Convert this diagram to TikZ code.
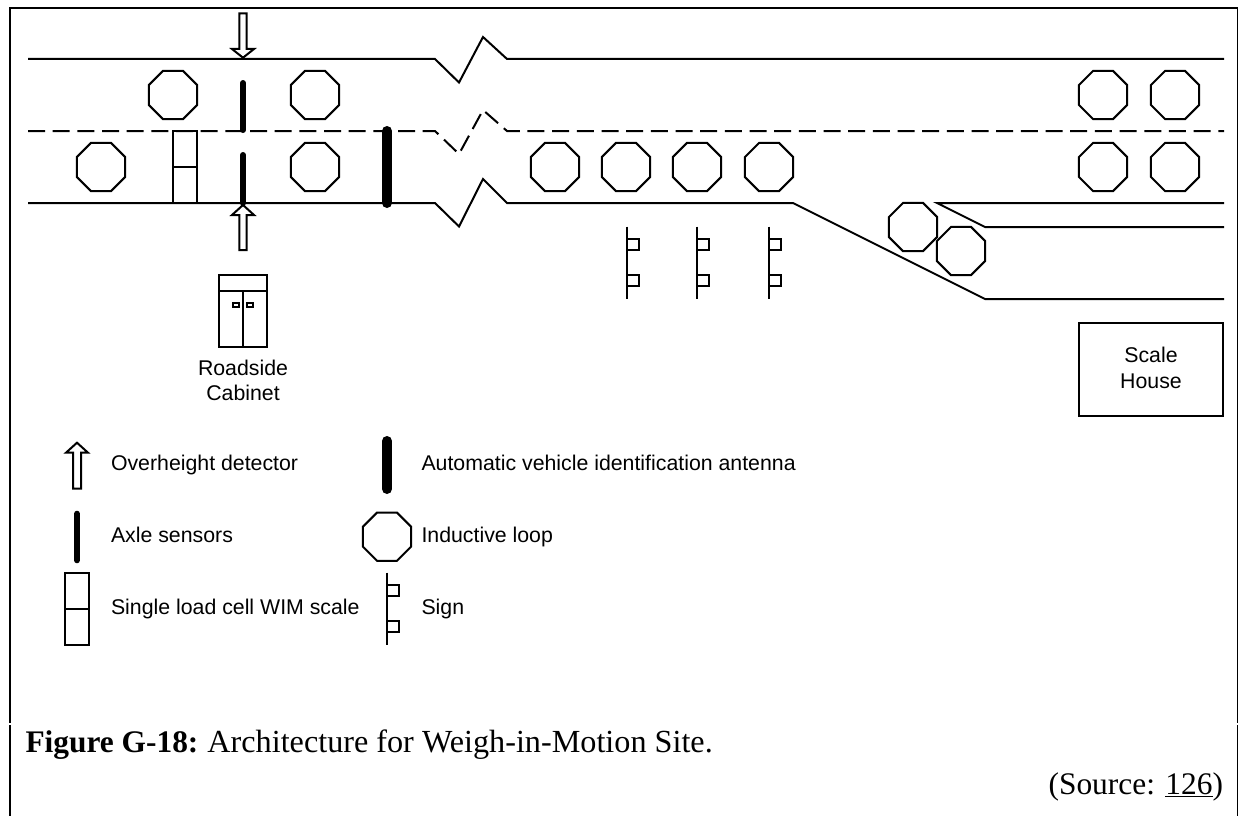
\documentclass[tikz,border=0pt]{standalone}
\usepackage{fontspec}
\setmainfont{Liberation Serif}
\newfontfamily\arialfont{Liberation Sans}
\usetikzlibrary{shapes.geometric}
\tikzset{
  x=1pt,y=-1pt,
  thinline/.style={line width=2pt,black,line cap=butt,line join=miter},
  frameline/.style={line width=2pt,black},
  laneline/.style={thinline,dash pattern=on 17pt off 7.67pt},
  looploop/.style={regular polygon,regular polygon sides=8,draw=black,line width=2pt,
    inner sep=0pt,outer sep=0pt,minimum size=52.2pt},
  axlebar/.style={line width=6pt,black,line cap=round},
  antbar/.style={line width=10pt,black,line cap=round},
  lab/.style={anchor=base west,inner sep=0pt,outer sep=0pt,font=\arialfont\fontsize{21.3}{26}\selectfont},
  clab/.style={anchor=base,inner sep=0pt,outer sep=0pt,font=\arialfont\fontsize{21.3}{26}\selectfont},
  captext/.style={inner sep=0pt,outer sep=0pt,font=\fontsize{32.2}{36}\selectfont},
  srctext/.style={inner sep=0pt,outer sep=0pt,font=\fontsize{31.4}{36}\selectfont},
  signpost/.pic={
    \draw[thinline] (0,0) -- (0,72.6);
    \draw[thinline] (0,12.6) -- (11.7,12.6) -- (11.7,23.4) -- (0,23.4);
    \draw[thinline] (0,48.6) -- (11.7,48.6) -- (11.7,59.6) -- (0,59.6);
  },
  wimscale/.pic={
    \draw[thinline] (0,0) rectangle (24,71.7);
    \draw[thinline] (0,35.9) -- (24,35.9);
  },
}
\begin{document}
\begin{tikzpicture}
\useasboundingbox (0,0) rectangle (1238,816);
\fill[white] (0,0) rectangle (1238,816);
% page frame
\coordinate (fTL) at (10.3,8);
\coordinate (fTR) at (1237.5,8);
\coordinate (fLa) at (10.3,722.7);
\coordinate (fRa) at (1237.5,722.7);
\coordinate (fLb) at (10.3,725);
\coordinate (fRb) at (1237.5,725);
\coordinate (fLc) at (10.3,816);
\coordinate (fRc) at (1237.5,816);
\draw[frameline,line join=miter] (fLa) -- (fTL) -- (fTR) -- (fRa);
\draw[frameline] (fLb) -- (fLc);
\draw[frameline] (fRb) -- (fRc);
% road
\draw[thinline] (28,59) -- (435,59) -- (459,82.5) -- (483,37) -- (507,59) -- (1224,59);
\draw[laneline] (28,131) -- (435,131) -- (459,154) -- (483,110) -- (507,131) -- (1224,131);
\draw[thinline] (28,203) -- (435,203) -- (459,226.5) -- (483,179) -- (507,203) -- (793,203) -- (985,299) -- (1224,299);
\draw[thinline] (1224,203) -- (937,203) -- (985,227) -- (1224,227);
% loops
\foreach \nm/\cx/\cy in {a/173/95,b/315/95,c/101/167,d/315/167,e/555/167,f/626/167,g/697/167,h/769/167,i/1103/95,j/1175/95,k/1103/167,l/1175/167,m/913/227,n/961/251}
  \node[looploop] (loop\nm) at (\cx,\cy) {};
% WIM scale
\pic at (173,131) {wimscale};
% axle sensors
\draw[axlebar] (243,83) -- (243,130);
\draw[axlebar] (243,155) -- (243,203);
% antenna
\draw[antbar] (387,131) -- (387,203);
% overheight arrows
\draw[thinline,fill=white] (239.3,13.3) -- (246.7,13.3) -- (246.7,49) -- (254,49) -- (243,57.7) -- (232,49) -- (239.3,49) -- cycle;
\draw[thinline,fill=white] (239.3,250) -- (246.7,250) -- (246.7,215) -- (254,215) -- (243,205) -- (232,215) -- (239.3,215) -- cycle;
% cabinet
\draw[thinline] (219.3,275.3) rectangle (266.7,346.7);
\draw[thinline] (219.3,290.7) -- (266.7,290.7);
\draw[thinline] (243,290.7) -- (243,346.7);
\draw[thinline] (233.3,303.3) rectangle (239,306.7);
\draw[thinline] (247,303.3) rectangle (253,306.7);
\node[clab] (cabA) at (243,375) {Roadside};
\node[clab] (cabB) at (243,400.7) {Cabinet};
% signs
\pic at (627,226.7) {signpost};
\pic at (697,226.7) {signpost};
\pic at (769,226.7) {signpost};
% scale house
\draw[thinline] (1079.3,323.3) rectangle (1222.7,416.3);
\node[clab] (shA) at (1151,362.7) {Scale};
\node[clab] (shB) at (1151,388.3) {House};
% legend symbols
\draw[thinline] (73,488.7) -- (81,488.7) -- (81,452.7) -- (88,452.7) -- (77,442.7) -- (66,452.7) -- (73,452.7) -- cycle;
\draw[axlebar] (77,513.7) -- (77,560.3);
\pic at (65,573.2) {wimscale};
\draw[antbar] (387,441) -- (387,489);
\node[looploop] (loopkey) at (387,536.7) {};
\pic at (387,572.7) {signpost};
% legend text
\node[lab] (t1) at (111,470.7) {Overheight detector};
\node[lab] (t2) at (111,542.7) {Axle sensors};
\node[lab] (t3) at (111,614.7) {Single load cell WIM scale};
\node[lab] (t4) at (421.5,470.7) {Automatic vehicle identification antenna};
\node[lab] (t5) at (421.5,542.7) {Inductive loop};
\node[lab] (t6) at (421.5,614.7) {Sign};
% caption
\node[captext,anchor=base west] (capt) at (25.5,752) {{\fontsize{31.4}{36}\selectfont\bfseries Figure G-18:}\hspace{9pt}Architecture for Weigh-in-Motion Site.};
\node[srctext,anchor=base east] (src) at (1223,794) {(Source: \underline{126})};
\end{tikzpicture}
\end{document}
